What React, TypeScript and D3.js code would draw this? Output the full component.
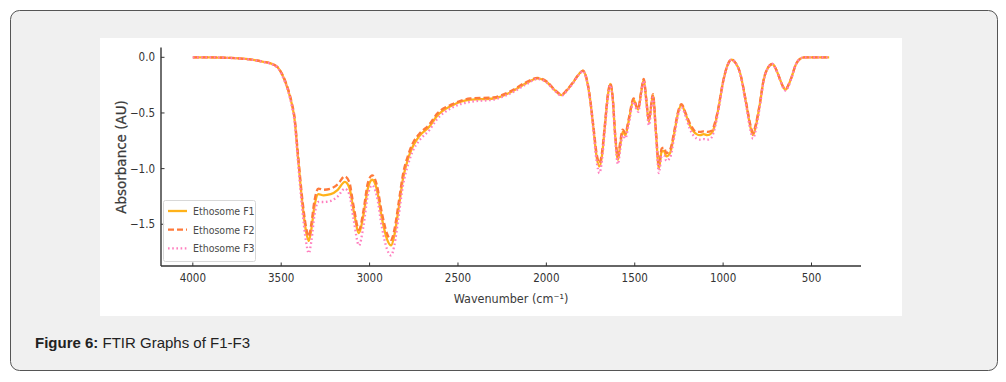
import React from "react";
import * as d3 from "d3";

const wavenumbers = [
  4000, 3900, 3800, 3700, 3650, 3600, 3560, 3520, 3490, 3460, 3440, 3425, 3405, 3380, 3360, 3344, 3330, 3312,
  3290, 3260, 3220, 3180, 3140, 3115, 3090, 3060, 3035, 3010, 2985, 2960, 2930, 2900, 2878, 2860, 2835, 2812,
  2780, 2755, 2720, 2660, 2620, 2530, 2430, 2300, 2210, 2110, 2050, 2000, 1950, 1915, 1880, 1850, 1815, 1793,
  1775, 1755, 1735, 1715, 1700, 1685, 1670, 1650, 1638, 1625, 1610, 1595, 1583, 1568, 1553, 1535, 1506, 1490,
  1480, 1465, 1449, 1435, 1420, 1397, 1380, 1363, 1348, 1335, 1321, 1300, 1275, 1255, 1236, 1210, 1189, 1150,
  1130, 1110, 1090, 1065, 1045, 1029, 1000, 975, 953, 930, 906, 868, 845, 831, 815, 793, 770, 755, 721, 700,
  680, 660, 646, 630, 613, 590, 566, 540, 500, 400,
];

const ethosomeF1 = [
  0, 0, -0.005, -0.015, -0.025, -0.04, -0.055, -0.09, -0.17, -0.3, -0.42, -0.55, -0.9, -1.32, -1.56, -1.65, -1.55, -1.34,
  -1.23, -1.24, -1.23, -1.19, -1.12, -1.17, -1.38, -1.58, -1.42, -1.18, -1.1, -1.18, -1.45, -1.64, -1.69, -1.6, -1.35, -1.1,
  -0.9, -0.8, -0.71, -0.62, -0.53, -0.43, -0.38, -0.37, -0.32, -0.23, -0.19, -0.22, -0.3, -0.34, -0.29, -0.23, -0.15, -0.12,
  -0.18, -0.35, -0.62, -0.9, -0.98, -0.88, -0.64, -0.32, -0.24, -0.36, -0.72, -0.92, -0.8, -0.67, -0.7, -0.58, -0.38, -0.45,
  -0.47, -0.33, -0.2, -0.38, -0.58, -0.34, -0.68, -1.0, -0.85, -0.84, -0.89, -0.86, -0.67, -0.5, -0.43, -0.52, -0.61, -0.69,
  -0.7, -0.69, -0.7, -0.68, -0.6, -0.48, -0.22, -0.07, -0.02, -0.05, -0.13, -0.43, -0.63, -0.7, -0.62, -0.43, -0.2, -0.12, -0.06, -0.11,
  -0.19, -0.27, -0.29, -0.25, -0.18, -0.07, -0.015, 0, 0, 0,
];

const ethosomeF2 = [
  0, 0, -0.005, -0.015, -0.025, -0.04, -0.055, -0.09, -0.165, -0.29, -0.41, -0.53, -0.87, -1.28, -1.52, -1.61, -1.5, -1.29,
  -1.18, -1.19, -1.18, -1.14, -1.07, -1.12, -1.34, -1.55, -1.38, -1.13, -1.06, -1.14, -1.4, -1.59, -1.64, -1.55, -1.3, -1.06,
  -0.87, -0.77, -0.69, -0.6, -0.51, -0.42, -0.37, -0.36, -0.31, -0.22, -0.185, -0.215, -0.295, -0.335, -0.285, -0.225, -0.15, -0.12,
  -0.175, -0.34, -0.6, -0.87, -0.95, -0.85, -0.62, -0.31, -0.235, -0.35, -0.7, -0.89, -0.77, -0.65, -0.68, -0.56, -0.37, -0.44,
  -0.46, -0.32, -0.195, -0.37, -0.56, -0.33, -0.66, -0.97, -0.82, -0.81, -0.86, -0.83, -0.65, -0.49, -0.42, -0.51, -0.59, -0.67,
  -0.67, -0.665, -0.67, -0.66, -0.58, -0.47, -0.215, -0.07, -0.02, -0.05, -0.13, -0.42, -0.61, -0.68, -0.6, -0.42, -0.195, -0.12, -0.06, -0.11,
  -0.19, -0.265, -0.285, -0.245, -0.18, -0.07, -0.015, 0, 0, 0,
];

const ethosomeF3 = [
  0, 0, -0.005, -0.016, -0.026, -0.042, -0.058, -0.095, -0.18, -0.31, -0.44, -0.57, -0.94, -1.38, -1.65, -1.76, -1.66, -1.42,
  -1.3, -1.3, -1.29, -1.25, -1.18, -1.23, -1.46, -1.69, -1.52, -1.24, -1.15, -1.24, -1.53, -1.73, -1.78, -1.69, -1.42, -1.16,
  -0.95, -0.84, -0.75, -0.65, -0.56, -0.45, -0.4, -0.38, -0.33, -0.24, -0.195, -0.225, -0.305, -0.345, -0.295, -0.235, -0.155, -0.125,
  -0.185, -0.36, -0.64, -0.94, -1.04, -0.92, -0.67, -0.34, -0.25, -0.38, -0.75, -0.96, -0.84, -0.7, -0.73, -0.61, -0.4, -0.47,
  -0.49, -0.35, -0.21, -0.4, -0.61, -0.36, -0.71, -1.04, -0.89, -0.88, -0.93, -0.9, -0.7, -0.52, -0.45, -0.54, -0.64, -0.73,
  -0.74, -0.735, -0.74, -0.72, -0.62, -0.5, -0.23, -0.075, -0.02, -0.05, -0.135, -0.45, -0.66, -0.73, -0.65, -0.45, -0.21, -0.125, -0.06, -0.115,
  -0.195, -0.275, -0.3, -0.26, -0.185, -0.07, -0.015, 0, 0, 0,
];

const xTicks = [4000, 3500, 3000, 2500, 2000, 1500, 1000, 500];
const yTicks = [0, -0.5, -1.0, -1.5];
const seriesNames = ["Ethosome F1", "Ethosome F2", "Ethosome F3"];

const FONT = "'DejaVu Sans', sans-serif";

export default function App() {
  const x = d3.scaleLinear().domain([4180, 220]).range([161, 861]);
  const y = d3.scaleLinear().domain([-1.875, 0.089]).range([266, 47.4]);

  const series = [
    { name: seriesNames[0], values: ethosomeF1, color: "#ffb21a", dash: "none" },
    { name: seriesNames[1], values: ethosomeF2, color: "#ff7a3a", dash: "6,3" },
    { name: seriesNames[2], values: ethosomeF3, color: "#ff7fbf", dash: "1.6,2.6" },
  ];

  const line = (vals: number[]) =>
    d3
      .line<number>()
      .x((_, i) => x(wavenumbers[i]))
      .y((d) => y(d))
      .curve(d3.curveMonotoneX)(vals) || "";

  const [x0, x1] = x.range();
  const [yb, yt] = y.range();
  const fmtY = (v: number) => (v === 0 ? "0.0" : "\u2212" + Math.abs(v).toFixed(1));

  return (
    <svg width={1006} height={382} style={{ position: "absolute", left: 0, top: 0 }}>
      <rect x={0} y={0} width={1006} height={382} fill="#ffffff" />
      <rect x={10.5} y={10.5} width={987} height={360} rx={9} fill="#f0f0f0" stroke="#555" strokeWidth={1} />
      <rect x={100} y={38} width={802} height={278} fill="#ffffff" />

      {series.map((s) => (
        <path
          key={s.name}
          d={line(s.values)}
          fill="none"
          stroke={s.color}
          strokeWidth={2.3}
          strokeDasharray={s.dash}
          strokeLinejoin="round"
        />
      ))}

      <line x1={x0} x2={x0} y1={yt} y2={yb} stroke="#333" strokeWidth={1.4} />
      <line x1={x0} x2={x1} y1={yb} y2={yb} stroke="#333" strokeWidth={1.4} />

      {xTicks.map((t) => (
        <g key={t}>
          <line x1={x(t)} x2={x(t)} y1={yb} y2={yb - 3.5} stroke="#333" strokeWidth={1} />
          <text x={x(t)} y={282} textAnchor="middle" fontFamily={FONT} fontStretch="condensed" fontSize={11.5} fill="#333">
            {t}
          </text>
        </g>
      ))}
      {yTicks.map((t) => (
        <g key={t}>
          <line x1={x0} x2={x0 + 3.5} y1={y(t)} y2={y(t)} stroke="#333" strokeWidth={1} />
          <text x={155} y={y(t) + 4} textAnchor="end" fontFamily={FONT} fontStretch="condensed" fontSize={11.5} fill="#333">
            {fmtY(t)}
          </text>
        </g>
      ))}

      <text
        transform="translate(126,157) rotate(-90)"
        textAnchor="middle"
        fontFamily={FONT}
        fontSize={13.5}
        fill="#3a3a3a"
        stroke="#3a3a3a"
        strokeWidth={0.25}
      >
        Absorbance (AU)
      </text>
      <text x={511} y={303} textAnchor="middle" fontFamily={FONT} fontStretch="condensed" fontSize={12.5} fill="#3a3a3a">
        Wavenumber (cm⁻¹)
      </text>

      <rect x={163.5} y={200.5} width={92} height={61} rx={2} fill="#ffffff" fillOpacity={0.85} stroke="#d8d8d8" />
      {series.map((s, i) => {
        const ly = 211 + i * 18.7;
        return (
          <g key={s.name}>
            <line x1={168} x2={187} y1={ly} y2={ly} stroke={s.color} strokeWidth={2.3} strokeDasharray={s.dash} />
            <text x={193} y={ly + 3.8} fontFamily={FONT} fontStretch="condensed" fontSize={10.5} fill="#4a4a4a">
              {s.name}
            </text>
          </g>
        );
      })}

      <text x={35} y={348} fontFamily="'Liberation Sans', Arial, sans-serif" fontSize={15} fill="#222">
        <tspan fontWeight="bold">Figure 6:</tspan> FTIR Graphs of F1-F3
      </text>
    </svg>
  );
}
